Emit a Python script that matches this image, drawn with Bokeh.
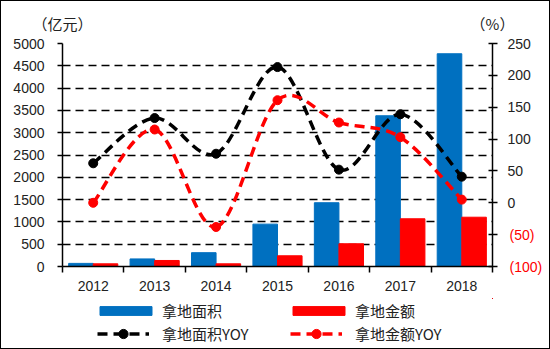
import numpy as np
from bokeh.plotting import figure
from bokeh.layouts import column
from bokeh.models import (Range1d, LinearAxis, FixedTicker, Legend, LegendItem,
                          ColumnDataSource)
from bokeh.transform import dodge
from bokeh.embed import file_html
from bokeh.resources import INLINE

years = ["2012", "2013", "2014", "2015", "2016", "2017", "2018"]
area = [70, 170, 310, 950, 1430, 3380, 4770]          # 拿地面积 (亿元 axis)
amount = [60, 135, 60, 240, 510, 1070, 1105]          # 拿地金额
area_yoy = [62, 133, 77, 213, 52, 139, 41]            # 拿地面积YOY (%)
amount_yoy = [0, 115, -38, 161, 126, 103, 5]          # 拿地金额YOY (%)
left_ticks = [0, 500, 1000, 1500, 2000, 2500, 3000, 3500, 4000, 4500, 5000]
right_ticks = [-100, -50, 0, 50, 100, 150, 200, 250]
neg_labels = {-50: "(50)", -100: "(100)"}
unit_left = "（亿元）"
unit_right = "（%）"

BLUE = "#0070C0"
RED = "#FF0000"
TXT = "#222222"
NUM_FONT = "Liberation Sans"
CJK_FONT = "Noto Sans CJK SC"

xs = np.arange(len(years)) + 0.5
src = ColumnDataSource(dict(x=xs, area=area, amount=amount,
                            area_yoy=area_yoy, amount_yoy=amount_yoy))

p = figure(width=548, height=297, x_range=Range1d(0, len(years)),
           y_range=Range1d(0, 5000), output_backend="svg", toolbar_location=None,
           min_border_left=61, min_border_right=57, min_border_top=42,
           min_border_bottom=32)
p.extra_y_ranges = {"yoy": Range1d(-100, 250)}
p.outline_line_color = None

# x axis
xa = p.xaxis[0]
xa.ticker = FixedTicker(ticks=list(xs), minor_ticks=list(range(len(years) + 1)))
xa.major_label_overrides = {float(x): y for x, y in zip(xs, years)}
xa.major_tick_line_color = None
xa.minor_tick_line_color = "black"
xa.minor_tick_out = 6
xa.minor_tick_in = 0
xa.minor_tick_line_width = 1.5
xa.axis_line_width = 1.5
xa.axis_line_color = "black"
xa.major_label_text_font = NUM_FONT
xa.major_label_text_font_size = "14px"
xa.major_label_text_color = TXT
xa.major_label_standoff = 8

# unit captions as labels of a bare top axis
ta = LinearAxis(ticker=FixedTicker(ticks=[0, len(years)]))
ta.major_label_overrides = {0: unit_left, len(years): unit_right}
ta.axis_line_color = None
ta.major_tick_line_color = None
ta.minor_tick_line_color = None
ta.major_tick_out = 0
ta.major_tick_in = 0
ta.major_label_standoff = 10
ta.major_label_text_font = CJK_FONT
ta.major_label_text_font_size = "15px"
ta.major_label_text_color = TXT
p.add_layout(ta, "above")

# left axis
ya = p.yaxis[0]
ya.ticker = FixedTicker(ticks=left_ticks)
ya.major_tick_out = 5
ya.major_tick_in = 0
ya.major_tick_line_width = 1.5
ya.minor_tick_line_color = None
ya.axis_line_width = 1.5
ya.axis_line_color = "black"
ya.major_label_text_font = NUM_FONT
ya.major_label_text_font_size = "14px"
ya.major_label_text_color = TXT
ya.major_label_standoff = 13

# right axis: line, ticks and the non-negative labels
ra = LinearAxis(y_range_name="yoy", ticker=FixedTicker(ticks=right_ticks))
ra.major_label_overrides = {float(k): "" for k in neg_labels}
ra.major_tick_out = 5
ra.major_tick_in = 4
ra.major_tick_line_width = 1.5
ra.minor_tick_line_color = None
ra.axis_line_width = 1.5
ra.major_label_text_font = NUM_FONT
ra.major_label_text_font_size = "14px"
ra.major_label_text_color = TXT
ra.major_label_standoff = 10
p.add_layout(ra, "right")

# second right axis carrying only the red negative labels, pulled back in line
rb = LinearAxis(y_range_name="yoy", ticker=FixedTicker(ticks=right_ticks))
rb.major_label_overrides = {float(k): neg_labels.get(k, "") for k in right_ticks}
rb.axis_line_color = None
rb.major_tick_line_color = None
rb.minor_tick_line_color = None
rb.major_tick_out = 0
rb.major_tick_in = 0
rb.major_label_standoff = -24
rb.major_label_text_font = NUM_FONT
rb.major_label_text_font_size = "14px"
rb.major_label_text_color = RED
p.add_layout(rb, "right")

# grid
p.xgrid.visible = False
p.ygrid.ticker = FixedTicker(ticks=left_ticks)
p.ygrid.grid_line_color = "black"
p.ygrid.grid_line_dash = "8 5"
p.ygrid.grid_line_width = 1.5

# bars
bar_kw = [dict(fill_color=BLUE, line_color=BLUE), dict(fill_color=RED, line_color=RED)]
p.vbar(x=dodge("x", -0.2), top="area", width=0.4, bottom=0, source=src, **bar_kw[0])
p.vbar(x=dodge("x", 0.2), top="amount", width=0.4, bottom=0, source=src, **bar_kw[1])

LINE_KW = dict(line_width=3.5, line_dash="10 6")


def smooth_segments(xv, yv):
    pts = np.column_stack([xv, yv]).astype(float)
    n = len(pts)
    seg = dict(x0=[], y0=[], x1=[], y1=[], cx0=[], cy0=[], cx1=[], cy1=[])
    for i in range(n - 1):
        p0 = pts[max(i - 1, 0)]
        p1 = pts[i]
        p2 = pts[i + 1]
        p3 = pts[min(i + 2, n - 1)]
        c1 = p1 + (p2 - p0) / 6.0
        c2 = p2 - (p3 - p1) / 6.0
        seg["x0"].append(p1[0]); seg["y0"].append(p1[1])
        seg["x1"].append(p2[0]); seg["y1"].append(p2[1])
        seg["cx0"].append(c1[0]); seg["cy0"].append(c1[1])
        seg["cx1"].append(c2[0]); seg["cy1"].append(c2[1])
    return ColumnDataSource(seg)


for values, color in [(area_yoy, "black"), (amount_yoy, RED)]:
    p.bezier(x0="x0", y0="y0", x1="x1", y1="y1", cx0="cx0", cy0="cy0",
             cx1="cx1", cy1="cy1", source=smooth_segments(xs, values),
             line_color=color, y_range_name="yoy", **LINE_KW)
    p.scatter(x=xs, y=values, size=9, fill_color=color, line_color=color,
              y_range_name="yoy")

# legend strip (separate figure below the chart; its ranges keep the
# legend-only renderers out of view)
f = figure(width=548, height=50, x_range=Range1d(-20, -19), y_range=Range1d(-20, -19),
           output_backend="svg", toolbar_location=None, min_border=0,
           x_axis_location=None, y_axis_location=None)
f.outline_line_color = None
f.xgrid.visible = False
f.ygrid.visible = False
lb1 = f.vbar(x="x", top="area", width=0.4, source=src, **bar_kw[0])
lb2 = f.vbar(x="x", top="amount", width=0.4, source=src, **bar_kw[1])
ll1 = f.line(x="x", y="area_yoy", source=src, line_color="black", **LINE_KW)
ls1 = f.scatter(x="x", y="area_yoy", source=src, size=9, color="black")
ll2 = f.line(x="x", y="amount_yoy", source=src, line_color=RED, **LINE_KW)
ls2 = f.scatter(x="x", y="amount_yoy", source=src, size=9, color=RED)


def make_legend(items, loc, gw, gh, standoff, lw):
    lg = Legend(items=items, orientation="horizontal", location=loc)
    lg.glyph_width = gw
    lg.glyph_height = gh
    lg.label_standoff = standoff
    lg.label_width = lw
    lg.label_height = 23
    lg.spacing = 0
    lg.padding = 0
    lg.margin = 0
    lg.border_line_color = None
    lg.background_fill_alpha = 0
    lg.label_text_font = CJK_FONT
    lg.label_text_font_size = "15px"
    lg.label_text_color = TXT
    return lg


f.add_layout(make_legend([LegendItem(label="拿地面积", renderers=[lb1]),
                          LegendItem(label="拿地金额", renderers=[lb2])],
                         (31, 26), 65, 11, 4, 124))
f.add_layout(make_legend([LegendItem(label="拿地面积YOY", renderers=[ll1, ls1]),
                          LegendItem(label="拿地金额YOY", renderers=[ll2, ls2])],
                         (35, 3), 52, 23, 13, 128))

layout = column(p, f, spacing=0)
layout.styles = {"border": "1px solid black"}
open("out.html", "w").write(file_html(layout, INLINE))
